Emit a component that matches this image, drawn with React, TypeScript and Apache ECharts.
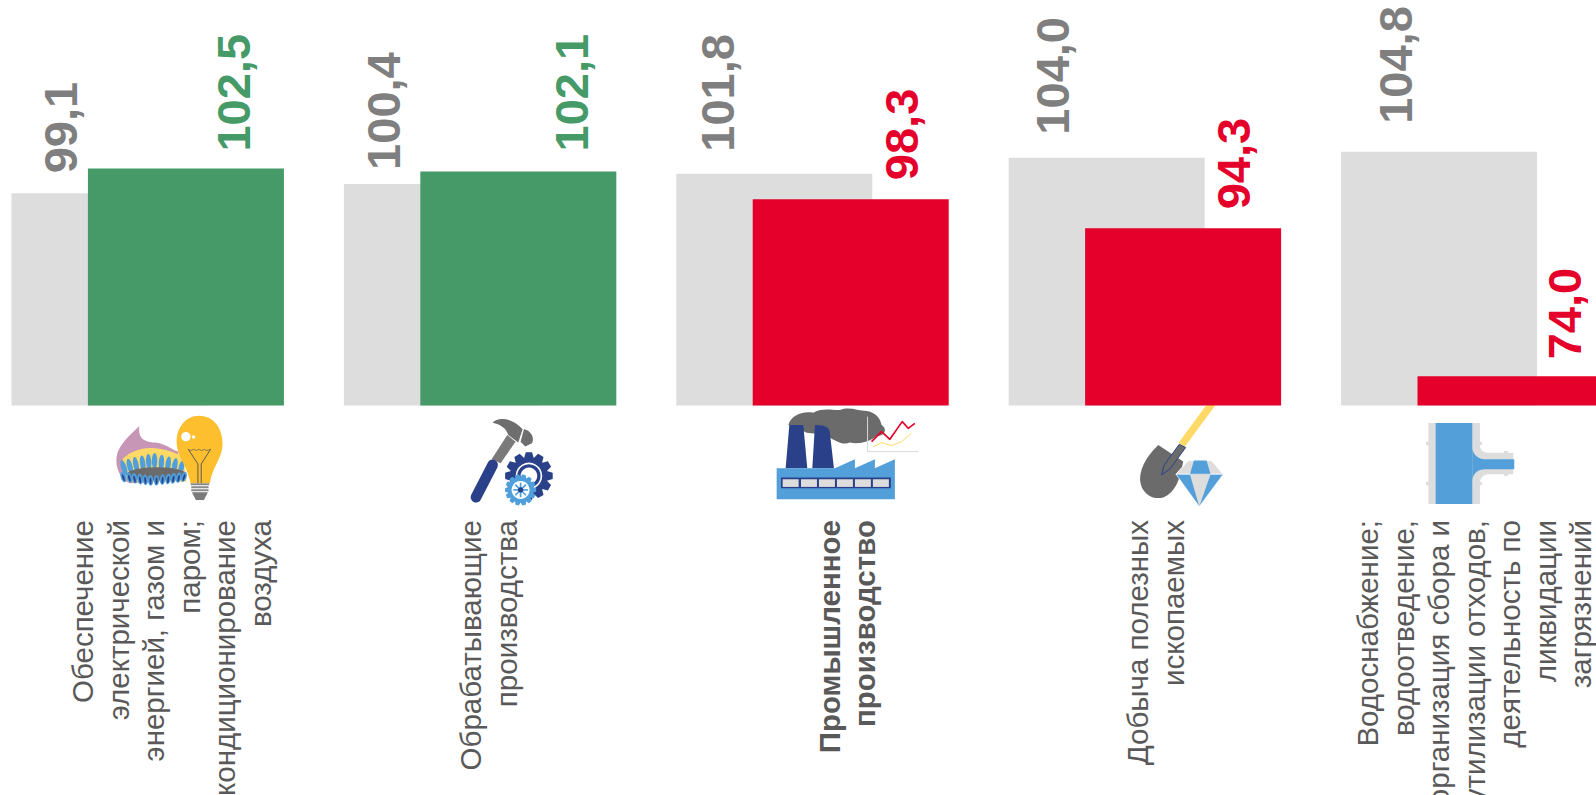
import React, { useEffect, useRef } from "react";
import * as echarts from "echarts";

const categories = [
  "Обеспечение\nэлектрической\nэнергией, газом и\nпаром;\nкондиционирование\nвоздуха",
  "Обрабатывающие\nпроизводства",
  "Промышленное\nпроизводство",
  "Добыча полезных\nископаемых",
  "Водоснабжение;\nводоотведение,\nорганизация сбора и\nутилизации отходов,\nдеятельность по\nликвидации\nзагрязнений",
];
const previousValues = [99.1, 100.4, 101.8, 104.0, 104.8];
const currentValues = [102.5, 102.1, 98.3, 94.3, 74.0];

const GREEN = "#459A68";
const RED = "#E4002B";
const GRAY_BAR = "#DDDDDD";
const GRAY_LABEL = "#7F7F7F";
const TEXT = "#595959";
const BLUE = "#529FD9";
const NAVY = "#2A4189";
const DARK = "#6B6B6B";

// [along the text (upwards), across the text (rightwards)]
const prevLabelOffsets = [[20, -48.5], [14, -58], [22, -57], [23, -54], [28, -44]];
const currLabelOffsets = [[17, 47.5], [20, 53], [19, 50.5], [19, 50], [17, 48.5]];
const categoryLabelX = [171.5, 488.5, 847, 1155.5, 1474];
const BOLD_CATEGORY = 2;

const paths: Record<string, string> = {
  flame: "M118 78 C115 110 125 125 165 128 C195 130 215 150 235 155 L240 240 L90 250 C60 240 45 200 50 170 C55 135 90 105 118 78 Z",
  flameInner: "M70 175 C90 155 130 140 165 145 C200 148 230 160 250 170 L260 245 L85 245 C70 220 60 195 70 175 Z",
  bulb: "M298 47 C345 47 368 90 368 130 C368 175 340 195 330 250 L272 250 C262 195 230 170 230 125 C230 85 255 47 298 47 Z",
  hammerHead: "M128 68 C145 48 190 55 218 88 L205 128 L175 105 C170 85 150 72 128 68 Z",
  hammerFace: "M222 88 C240 90 256 112 246 130 L226 140 L212 125 Z",
  smoke: "M55 75 C62 48 95 32 130 38 C160 22 190 32 210 30 C240 18 260 32 290 33 C322 38 332 60 335 75 C352 85 348 108 320 108 C300 124 270 134 240 128 C215 138 190 118 165 104 L110 98 C85 85 70 82 55 75 Z",
  chimneyB: "M135 75 C170 75 180 85 180 100 L192 205 L127 205 Z",
  shovel: "M115 150 L190 200 C180 250 170 290 130 308 C100 315 65 300 60 255 C60 210 90 175 115 150 Z",
  fillet: "M180 90 C180 105 190 113 205 113 L280 113 L280 178 L205 178 C190 178 180 190 180 205 Z",
  branch: "M157 100 C160 120 175 133 195 133 L283 133 L283 163 L195 163 C175 163 160 175 157 195 Z",
};
Object.entries(paths).forEach(([name, d]) => {
  echarts.graphic.registerShape("icon_" + name, echarts.graphic.extendPath(d, {}) as any);
});

const p = (name: string, fill: string) => ({ type: "icon_" + name, style: { fill } });
const poly = (points: number[][], fill: string, extra: any = {}) => ({ type: "polygon", shape: { points }, style: { fill, ...extra } });
const line = (points: number[][], stroke: string, lineWidth: number, lineCap = "butt") => ({
  type: "polyline", shape: { points }, style: { fill: "none", stroke, lineWidth, lineCap, lineJoin: "round" },
});
const circle = (cx: number, cy: number, r: number, fill: string) => ({ type: "circle", shape: { cx, cy, r }, style: { fill } });
const rect = (x: number, y: number, width: number, height: number, fill: string) => ({ type: "rect", shape: { x, y, width, height }, style: { fill } });

function gear(cx: number, cy: number, rOuter: number, rInner: number, teeth: number, fill: string) {
  const pts: number[][] = [];
  for (let i = 0; i < teeth; i++) {
    const a = (i / teeth) * Math.PI * 2;
    const s = (Math.PI * 2) / teeth;
    [[-0.5, rInner], [-0.25, rOuter], [0.25, rOuter], [0.5, rInner]].forEach(([f, r]) => {
      pts.push([cx + Math.cos(a + f * s) * r, cy + Math.sin(a + f * s) * r]);
    });
  }
  return poly(pts, fill);
}

function petals(xs: number[], yFn: (x: number) => number, rx: number, ry: number, fill: string) {
  return xs.map((x) => ({
    type: "ellipse",
    shape: { cx: x, cy: yFn(x), rx, ry },
    rotation: -(x - 165) / 300,
    originX: x,
    originY: yFn(x),
    style: { fill },
  }));
}

const iconBurnerXs = [72, 90, 108, 128, 146, 164, 184, 204, 224, 244];
const iconBurnerLowXs = [70, 88, 104, 120, 136, 152, 170, 188, 204, 220, 236, 252];

const icon1 = [
  p("flame", "#C795B5"),
  p("flameInner", "#FFD966"),
  ...petals(iconBurnerXs, (x) => 182 + Math.abs(x - 160) * 0.25, 8, 24, "#4F9FDC"),
  { type: "ellipse", shape: { cx: 170, cy: 222, rx: 88, ry: 20 }, style: { fill: DARK } },
  ...petals(iconBurnerLowXs, (x) => 242 - Math.abs(x - 160) * 0.12, 8, 16, "#4F9FDC"),
  ...petals(iconBurnerLowXs, (x) => 244 - Math.abs(x - 160) * 0.12, 3, 11, NAVY),
  p("bulb", "#FDBF2D"),
  circle(258, 110, 14, "#FFFFFF"),
  circle(281, 111, 5, "#FFFFFF"),
  line([[265, 148], [273, 152], [281, 148], [289, 152], [297, 148], [305, 152], [313, 148], [321, 152], [332, 148]], "#595959", 2),
  line([[265, 148], [294, 192], [294, 250]], "#595959", 3),
  line([[332, 148], [304, 192], [304, 250]], "#595959", 3),
  rect(272, 250, 56, 6, "#8A8A8A"),
  rect(274, 259, 52, 6, "#8A8A8A"),
  rect(274, 268, 52, 6, "#8A8A8A"),
  poly([[276, 277], [324, 277], [312, 300], [288, 300]], "#7A7A7A"),
];

const icon2 = [
  p("hammerHead", "#6E6E6E"),
  p("hammerFace", "#6E6E6E"),
  poly([[172, 105], [197, 125], [152, 190], [125, 178]], "#7A7A7A"),
  line([[128, 195], [78, 292]], NAVY, 32, "round"),
  gear(237, 228, 72, 56, 12, NAVY),
  circle(237, 228, 40, "#FFFFFF"),
  circle(237, 228, 35, NAVY),
  circle(237, 228, 25, "#FFFFFF"),
  gear(212, 270, 47, 38, 14, "#4F9FDC"),
  circle(212, 270, 27, "#FFFFFF"),
  line([[190, 270], [234, 270]], "#4F9FDC", 5),
  line([[212, 248], [212, 292]], "#4F9FDC", 5),
  line([[196, 254], [228, 286]], "#4F9FDC", 5),
  line([[228, 254], [196, 286]], "#4F9FDC", 5),
  circle(212, 270, 8, NAVY),
];

const icon3 = [
  p("smoke", DARK),
  poly([[58, 75], [100, 75], [112, 205], [47, 205]], NAVY),
  p("chimneyB", NAVY),
  poly([[20, 205], [195, 205], [255, 178], [255, 205], [315, 178], [315, 205], [375, 178], [375, 298], [20, 298]], BLUE),
  rect(33, 233, 330, 32, NAVY),
  ...[38, 93, 147, 201, 255, 309].map((x) => rect(x, 238, 48, 23, "#DDDDDD")),
  line([[293, 50], [293, 155], [445, 155]], "#D9D9D9", 3),
  line([[305, 125], [335, 95], [360, 118], [397, 65], [415, 85], [435, 70]], RED, 5),
  line([[310, 140], [335, 128], [365, 137], [395, 125], [425, 100]], "#FFD966", 3),
];

const icon4 = [
  line([[282, 18], [185, 150]], "#FFD966", 22),
  p("shovel", DARK),
  poly([[178, 148], [197, 158], [150, 222], [125, 240], [133, 210]], DARK, { stroke: NAVY, lineWidth: 3 }),
  poly([[205, 197], [275, 197], [310, 238], [168, 238]], "#DDDDDD", { stroke: "#FFFFFF", lineWidth: 3 }),
  poly([[222, 197], [260, 197], [272, 238], [210, 238]], BLUE),
  poly([[168, 238], [310, 238], [238, 335]], BLUE, { stroke: "#FFFFFF", lineWidth: 2 }),
  poly([[210, 238], [272, 238], [238, 335]], "#DDDDDD"),
];

const icon5 = [
  rect(25, 24, 155, 243, "#DDDDDD"),
  p("fillet", "#DDDDDD"),
  rect(18, 80, 10, 10, "#DDDDDD"),
  rect(18, 201, 10, 10, "#DDDDDD"),
  rect(176, 80, 10, 10, "#DDDDDD"),
  rect(176, 201, 10, 10, "#DDDDDD"),
  rect(252, 108, 12, 8, "#DDDDDD"),
  rect(252, 175, 12, 8, "#DDDDDD"),
  rect(47, 24, 110, 243, BLUE),
  p("branch", BLUE),
];

const icons = [
  { x: 100, y: 400, children: icon1 },
  { x: 450, y: 400, children: icon2 },
  { x: 770, y: 400, children: icon3 },
  { x: 1120, y: 395, children: icon4 },
  { x: 1420, y: 415, children: icon5 },
];

const fmt = (v: number) => v.toFixed(1).replace(".", ",");

export default function App() {
  const ref = useRef<HTMLDivElement>(null);
  useEffect(() => {
    document.body.style.margin = "0";
    const chart = echarts.init(ref.current!, undefined, { renderer: "svg" });
    const labelBase = {
      show: true,
      position: "top" as const,
      rotate: 90,
      align: "left" as const,
      verticalAlign: "middle" as const,
      distance: 0,
      fontFamily: "Liberation Sans",
      fontWeight: "bold" as const,
      fontSize: 47,
      formatter: (o: any) => fmt(o.value),
    };
    chart.setOption({
      animation: false,
      backgroundColor: "#FFFFFF",
      grid: { left: -18.5, width: 1662, top: 41, height: 364.5, containLabel: false, outerBoundsMode: "none" },
      xAxis: {
        type: "category",
        data: categories,
        axisLine: { show: false },
        axisTick: { show: false },
        axisLabel: { show: false },
      },
      yAxis: { type: "value", min: 70, max: 120, show: false, splitLine: { show: false } },
      series: [
        {
          type: "bar",
          name: "Предыдущий период",
          barWidth: 196,
          barGap: "-61%",
          silent: true,
          itemStyle: { color: GRAY_BAR },
          data: previousValues.map((value, i) => ({
            value,
            label: { ...labelBase, color: GRAY_LABEL, offset: prevLabelOffsets[i] },
          })),
        },
        {
          type: "bar",
          name: "Текущий период",
          barWidth: 196,
          silent: true,
          data: currentValues.map((value, i) => {
            const color = value >= 100 ? GREEN : RED;
            return {
              value,
              itemStyle: { color },
              label: { ...labelBase, color, offset: currLabelOffsets[i] },
            };
          }),
        },
      ],
      graphic: [
        ...categories.map((text, i) => ({
          type: "text",
          x: categoryLabelX[i],
          y: 520,
          rotation: Math.PI / 2,
          silent: true,
          style: {
            text,
            align: "right",
            verticalAlign: "middle",
            fill: TEXT,
            lineHeight: 35.5,
            font: `${i === BOLD_CATEGORY ? "bold " : ""}29.5px "Liberation Sans"`,
          },
        })),
        ...icons.map((ic) => ({
          type: "group",
          x: ic.x,
          y: ic.y,
          scaleX: 1 / 3,
          scaleY: 1 / 3,
          silent: true,
          children: ic.children,
        })),
      ],
    });
    return () => chart.dispose();
  }, []);
  return <div ref={ref} style={{ width: 1596, height: 795 }} />;
}
